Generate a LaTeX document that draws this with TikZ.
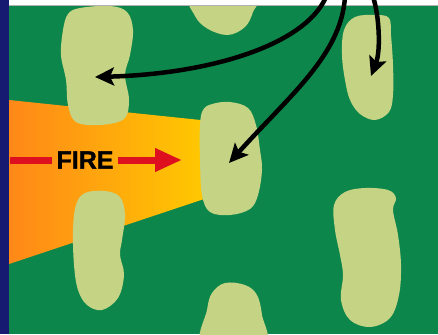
\documentclass[tikz,border=0pt]{standalone}
\usepackage{fontspec}
\setsansfont{Liberation Sans}
\newfontfamily\firefont[FakeBold=1.2]{Liberation Sans Bold}
\usetikzlibrary{arrows.meta}
\definecolor{navy}{RGB}{22,26,112}
\definecolor{field}{RGB}{12,134,74}
\definecolor{island}{RGB}{196,211,132}
\definecolor{fireorange}{RGB}{255,136,24}
\definecolor{fireyellow}{RGB}{255,202,0}
\definecolor{firered}{RGB}{222,16,32}
\tikzset{
  islandshape/.style={fill=island, draw=none},
  spread/.style={draw=black, line width=4.5pt, -{Stealth[length=19pt,width=18pt,inset=4pt]}},
  firebar/.style={draw=firered, line width=7pt},
}
\begin{document}
\begin{tikzpicture}[x=1pt,y=-1pt]
\useasboundingbox (0,0) rectangle (438,334);
% background field
\fill[field] (0,0) rectangle (438,334);
% fire zone
\shade[left color=fireorange, right color=fireyellow]
  (9,100) -- (210,121) -- (210,197) -- (9,264) -- cycle;
% islands
\fill[islandshape] plot[smooth cycle, tension=0.6] coordinates {(80,8) (110,6) (127,12) (133,30) (130,55) (125,75) (129,100) (124,119) (100,125) (76,122) (68,105) (66,80) (61,55) (63,30) (68,14)};
\fill[islandshape] plot[smooth cycle, tension=0.6] coordinates {(192,-5) (195,16) (208,29) (228,35) (245,27) (253,12) (256,-5)};
\fill[islandshape] plot[smooth cycle, tension=0.6] coordinates {(355,17) (375,15) (389,18) (391,35) (393,65) (393,95) (389,112) (375,120) (360,114) (350,100) (345,80) (342,55) (344,30)};
\fill[islandshape] plot[smooth cycle, tension=0.6] coordinates {(212,104) (230,102) (248,108) (256,125) (260,150) (262,170) (258,195) (250,209) (230,215) (210,212) (202,195) (200,160) (200,125) (203,110)};
\fill[islandshape] plot[smooth cycle, tension=0.6] coordinates {(85,193) (105,191) (120,197) (125,215) (122,240) (120,255) (124,275) (118,298) (102,310) (87,305) (78,290) (74,265) (73,230) (76,205)};
\fill[islandshape] plot[smooth cycle, tension=0.6] coordinates {(203,345) (207,310) (212,293) (225,283) (245,285) (257,295) (262,315) (264,345)};
\fill[islandshape] plot[smooth cycle, tension=0.6] coordinates {(345,192) (365,188) (388,190) (396,198) (393,210) (398,235) (401,265) (399,295) (390,318) (370,327) (350,320) (341,300) (343,275) (340,255) (335,230) (334,205)};
% frame
\fill[white] (0,0) rectangle (438,5);
\draw[gray!60, line width=0.8pt] (9,5.4) -- (438,5.4);
\fill[navy] (0,0) rectangle (9,334);
% fire label and arrows
\node[font=\firefont\fontsize{25}{25}\selectfont, inner sep=0pt] (firelabel) at (85,160) {FIRE};
\coordinate (barL) at (10,160);
\coordinate (barR) at (52,160);
\coordinate (redS) at (118,160);
\coordinate (redE) at (182,160);
\draw[firebar] (barL) -- (barR);
\draw[firebar, -{Triangle[length=27pt,width=22pt]}] (redS) -- (redE);
% spreading arrows
\coordinate (s1) at (326,-3);
\coordinate (t1) at (95,77);
\coordinate (s2) at (345,-3);
\coordinate (t2) at (229,163);
\coordinate (s3) at (373,-3);
\coordinate (t3) at (371,76);
\draw[spread] (s1) .. controls (305,45) and (210,74) .. (t1);
\draw[spread] (s2) .. controls (341,55) and (290,95) .. (t2);
\draw[spread] (s3) .. controls (379,14) and (381,50) .. (t3);
\end{tikzpicture}
\end{document}
